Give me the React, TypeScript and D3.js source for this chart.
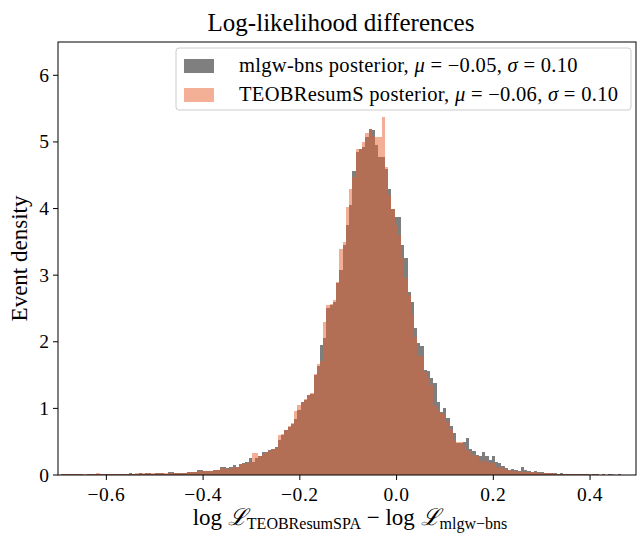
import React from "react";
import * as d3 from "d3";

// Histogram bins: start and width (data units)
const binStart = -0.701;
const binWidth = 0.0067;

// mlgw-bns posterior density per bin
const mlgwValues = [
  0, 0.01, 0.015, 0.01, 0.02, 0.01, 0.015, 0.01, 0.005, 0.015, 0.01, 0.01, 0.02, 0.015, 0.01, 0.02, 0.015, 0.01, 0.015, 0.02, 0.015, 0.02, 0.025, 0.02, 0.02,
  0.025, 0.02, 0.03, 0.025, 0.02, 0.03, 0.025, 0.03, 0.02,
  0.05, 0.045,
  0.025, 0.03, 0.025, 0.03,
  0.045, 0.05, 0.05,
  0.075, 0.07,
  0.065, 0.06, 0.065,
  0.075, 0.08,
  0.125, 0.12,
  0.11, 0.115,
  0.15, 0.125, 0.16, 0.175, 0.2, 0.26, 0.2, 0.25, 0.29, 0.34,
  0.34, 0.37, 0.39, 0.42, 0.53, 0.6, 0.68, 0.72, 0.77, 0.84,
  0.98, 1.1, 1.13, 1.2, 1.22, 1.5, 1.64, 1.95, 2.06, 2.5,
  2.55, 2.6, 2.88, 3.08, 3.45, 3.75, 4.05, 4.56, 4.85, 4.9,
  4.92, 5.07, 5.19, 5.18, 4.96, 4.77, 4.77, 4.6, 4.3, 4.0,
  3.88, 3.88, 3.45, 3.26, 2.74, 2.6, 2.2, 1.98, 1.93, 1.58,
  1.56, 1.45, 1.38, 1.1, 0.95, 1.0, 0.85, 0.73, 0.63, 0.48,
  0.48, 0.5, 0.55, 0.39, 0.36, 0.3, 0.28, 0.34, 0.28, 0.23,
  0.28, 0.2, 0.18, 0.135, 0.1,
  0.08, 0.09, 0.07, 0.06, 0.115,
  0.07, 0.06, 0.05, 0.06,
  0.045, 0.04, 0.03, 0.035, 0.03,
  0.025, 0.02, 0.03, 0.02, 0.015, 0.02, 0.015, 0.01,
  0.01, 0.015, 0.01, 0.005, 0.01, 0.01, 0.005, 0.01, 0.005, 0.01, 0.005, 0.005, 0.01, 0.005, 0, 0.005, 0.005, 0, 0.005,
];

// TEOBResumS posterior density per bin
const teobValues = [
  0.005, 0.01, 0.01, 0.015, 0.01, 0.015, 0.01, 0.01, 0.015, 0.02, 0.015, 0.02, 0.025, 0.02, 0.015, 0.02, 0.02, 0.015, 0.02, 0.015, 0.02, 0.015, 0.02, 0.02, 0.025,
  0.02, 0.025, 0.02, 0.03, 0.025, 0.02, 0.03, 0.025, 0.025,
  0.03, 0.035,
  0.025, 0.025, 0.03, 0.03,
  0.045, 0.05, 0.045,
  0.06, 0.06,
  0.065, 0.06, 0.06,
  0.07, 0.075,
  0.1, 0.1,
  0.09, 0.1,
  0.12, 0.12, 0.16, 0.17, 0.18, 0.2, 0.33, 0.33, 0.29, 0.31,
  0.34, 0.36, 0.39, 0.41, 0.6, 0.62, 0.68, 0.73, 0.78, 0.96,
  1.05, 1.1, 1.14, 1.2, 1.23, 1.52, 1.66, 1.71, 2.29, 2.55,
  2.56, 2.63, 2.9, 3.4, 3.5, 4.03, 4.3, 4.48, 4.89, 4.89,
  5.0, 5.14, 5.2, 5.09, 5.07, 5.07, 5.38, 4.62, 4.2, 4.0,
  3.75, 3.6, 3.26, 2.96, 2.7, 2.4, 2.07, 1.78, 1.78, 1.55,
  1.45, 1.35, 1.03, 0.98, 0.93, 0.9, 0.8, 0.68, 0.53, 0.5,
  0.49, 0.45, 0.38, 0.35, 0.3, 0.28, 0.2, 0.22, 0.2, 0.18,
  0.18, 0.125, 0.125, 0.1, 0.08,
  0.07, 0.06, 0.06, 0.05, 0.06,
  0.05, 0.05, 0.04, 0.04,
  0.035, 0.03, 0.03, 0.025, 0.025,
  0.02, 0.02, 0.015, 0.02, 0.015, 0.01, 0.015, 0.01,
  0.01, 0.01, 0.005, 0.01, 0.01, 0.005, 0.005, 0.01, 0.005, 0.005, 0.01, 0.005, 0.005, 0, 0.005, 0.005, 0, 0.005, 0,
];

const xTicks = [-0.6, -0.4, -0.2, 0.0, 0.2, 0.4];
const yTicks = [0, 1, 2, 3, 4, 5, 6];
const xDomain = [-0.7, 0.495];
const yDomain = [0, 6.5];

const seriesNames = ["mlgw-bns posterior", "TEOBResumS posterior"];
const seriesMu = ["−0.05", "−0.06"];
const seriesSigma = ["0.10", "0.10"];

const W = 637;
const H = 533;
const M = { left: 58, right: 636, top: 42, bottom: 475 };
const FONT = "'Liberation Serif', 'DejaVu Serif', serif";

const GRAY = "#000000";
const SALMON = "#e9612d";

export default function App() {
  const x = d3.scaleLinear().domain(xDomain).range([M.left, M.right]);
  const y = d3.scaleLinear().domain(yDomain).range([M.bottom, M.top]);
  const fmtX = (v: number) => (v < 0 ? "−" : "") + d3.format(".1f")(Math.abs(v));

  const bars = (vals: number[]) =>
    vals.map((v, i) => {
      const x0 = binStart + i * binWidth;
      const x1 = x0 + binWidth;
      if (v <= 0) return null;
      return (
        <rect
          key={i}
          x={x(x0)}
          width={x(x1) - x(x0)}
          y={y(v)}
          height={y(0) - y(v)}
        />
      );
    });

  return (
    <svg
      width={W}
      height={H}
      style={{ position: "absolute", left: 0, top: 0, background: "#fff" }}
      fontFamily={FONT}
    >
      <defs>
        <clipPath id="plotclip">
          <rect x={M.left} y={M.top} width={M.right - M.left} height={M.bottom - M.top} />
        </clipPath>
      </defs>
      <rect x={0} y={0} width={W} height={H} fill="#fff" />
      <g clipPath="url(#plotclip)" shapeRendering="crispEdges">
        <g fill={GRAY} opacity={0.5}>{bars(mlgwValues)}</g>
        <g fill={SALMON} opacity={0.5}>{bars(teobValues)}</g>
      </g>

      {/* spines */}
      <rect
        x={M.left}
        y={M.top}
        width={M.right - M.left}
        height={M.bottom - M.top}
        fill="none"
        stroke="#000"
        strokeWidth={1}
      />

      {/* x ticks */}
      {xTicks.map((t) => (
        <g key={t}>
          <line x1={x(t)} x2={x(t)} y1={M.bottom} y2={M.bottom + 5} stroke="#000" />
          <text x={x(t)} y={M.bottom + 26} textAnchor="middle" fontSize={19.5} letterSpacing={0.6}>
            {fmtX(t)}
          </text>
        </g>
      ))}
      {/* y ticks */}
      {yTicks.map((t) => (
        <g key={t}>
          <line x1={M.left - 5} x2={M.left} y1={y(t)} y2={y(t)} stroke="#000" />
          <text x={M.left - 9} y={y(t) + 6.5} textAnchor="end" fontSize={19.5}>
            {t}
          </text>
        </g>
      ))}

      {/* title */}
      <text x={(M.left + M.right) / 2 - 6} y={31} textAnchor="middle" fontSize={25}>
        Log-likelihood differences
      </text>

      {/* y label */}
      <text
        transform={`translate(27, ${(M.top + M.bottom) / 2}) rotate(-90)`}
        textAnchor="middle"
        fontSize={23}
      >
        Event density
      </text>

      {/* x label */}
      <text x={(M.left + M.right) / 2 + 3} y={525} textAnchor="middle" fontSize={23}>
        <tspan>log </tspan>
        <tspan fontStyle="italic">ℒ</tspan>
        <tspan fontSize={16} dy={4}>TEOBResumSPA</tspan>
        <tspan dy={-4}> − log </tspan>
        <tspan fontStyle="italic">ℒ</tspan>
        <tspan fontSize={16} dy={4}>mlgw−bns</tspan>
      </text>

      {/* legend */}
      <g>
        <rect x={176} y={48} width={455} height={62} rx={3} fill="#fff" fillOpacity={0.8} stroke="#ccc" />
        {seriesNames.map((name, i) => (
          <g key={name}>
            <rect x={184} y={59 + i * 29} width={30} height={14} fill={i === 0 ? GRAY : SALMON} opacity={0.5} />
            <text x={239} y={72 + i * 29} fontSize={20.5} letterSpacing={0.3}>
              <tspan>{name}, </tspan>
              <tspan fontStyle="italic">μ</tspan>
              <tspan> = {seriesMu[i]}, </tspan>
              <tspan fontStyle="italic">σ</tspan>
              <tspan> = {seriesSigma[i]}</tspan>
            </text>
          </g>
        ))}
      </g>
    </svg>
  );
}
